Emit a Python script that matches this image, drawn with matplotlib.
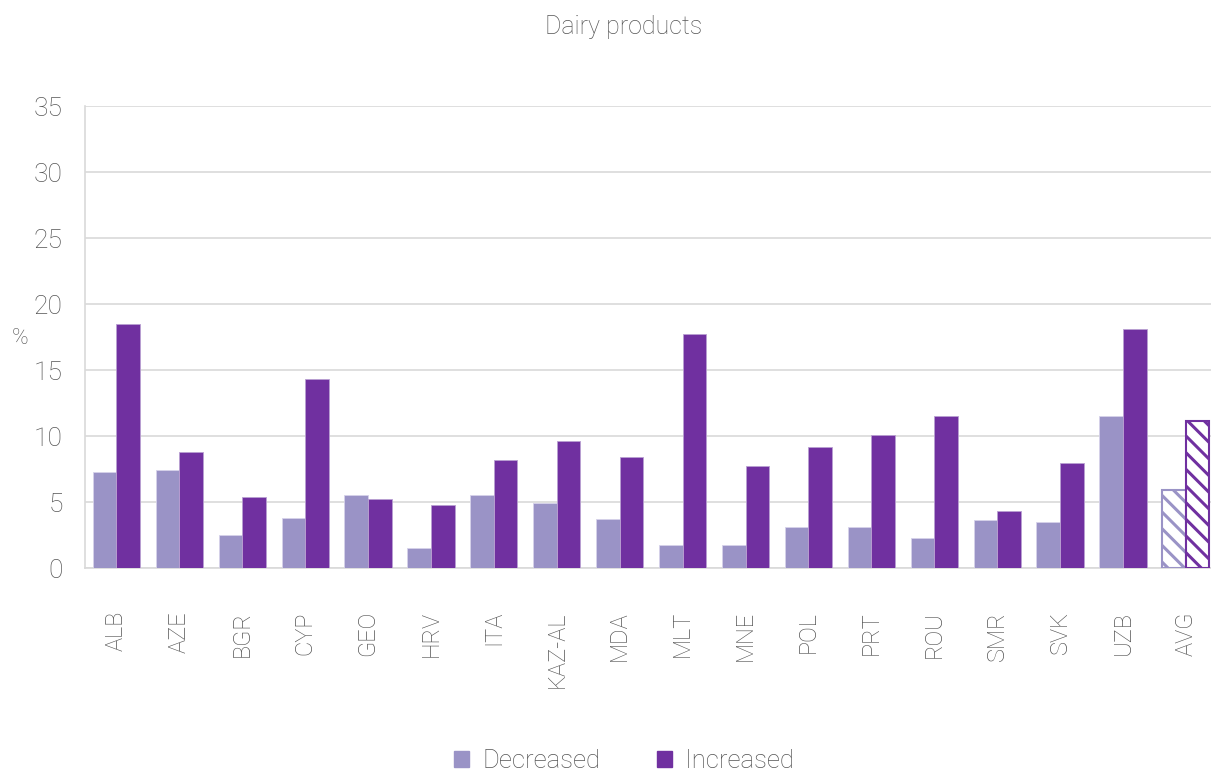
import matplotlib
matplotlib.use("Agg")

import matplotlib.pyplot as plt
import numpy as np

# ── data ────────────────────────────────────────────────────────────────────
countries = ["ALB", "AZE", "BGR", "CYP", "GEO", "HRV", "ITA", "KAZ-AL", "MDA",
             "MLT", "MNE", "POL", "PRT", "ROU", "SMR", "SVK", "UZB", "AVG"]
decreased = [7.3, 7.4, 2.5, 3.8, 5.5, 1.55, 5.5, 4.9, 3.75,
             1.75, 1.75, 3.1, 3.1, 2.3, 3.65, 3.45, 11.5, 5.9]
increased = [18.5, 8.8, 5.4, 14.3, 5.2, 4.75, 8.2, 9.6, 8.4,
             17.7, 7.7, 9.2, 10.1, 11.5, 4.35, 7.95, 18.1, 11.1]

# ── style ───────────────────────────────────────────────────────────────────
plt.rcParams.update({
    "font.family": ["Roboto", "DejaVu Sans"],
    "font.weight": "light",
    "hatch.linewidth": 2.2,
})
C_DEC = "#9a93c6"
C_INC = "#7030a0"
TXT = "#555555"
GRID = "#d9d9d9"

fig = plt.figure(figsize=(12.11, 7.73), dpi=100)
ax = fig.add_axes([85 / 1211, 205 / 773, 1 - 85 / 1211, 462 / 773])

x = np.arange(len(countries))
w = 0.375
n = len(countries) - 1  # last group is the average, drawn hatched

ax.bar(x[:n] - w / 2, decreased[:n], w, color=C_DEC, edgecolor="#d6d2ea",
       linewidth=0.6, label="Decreased", zorder=3)
ax.bar(x[:n] + w / 2, increased[:n], w, color=C_INC, edgecolor="#b9a0d2",
       linewidth=0.6, label="Increased", zorder=3)

ax.bar(x[n] - w / 2, decreased[n], w, color="white", edgecolor=C_DEC,
       hatch="\\\\", linewidth=1.5, zorder=3)
ax.bar(x[n] + w / 2, increased[n], w, color="white", edgecolor=C_INC,
       hatch="\\\\", linewidth=1.5, zorder=3)

ax.set_xlim(-0.5, 17.4)
ax.set_ylim(0, 35)
ax.set_yticks(np.arange(0, 36, 5))
ax.yaxis.grid(True, color=GRID, linewidth=1.2, zorder=0)
ax.set_axisbelow(True)

ax.set_xticks(x)
ax.set_xticklabels(countries, rotation=90, va="top", ha="center")
ax.tick_params(axis="x", length=0, pad=31, labelsize=17, labelcolor=TXT)
ax.tick_params(axis="y", length=0, pad=16, labelsize=19, labelcolor=TXT)

for side in ("top", "right"):
    ax.spines[side].set_visible(False)
ax.spines["left"].set_color(GRID)
ax.spines["bottom"].set_color(GRID)
ax.spines["left"].set_linewidth(1.2)
ax.spines["bottom"].set_linewidth(1.2)

fig.text(20 / 1211, 1 - 338 / 773, "%", fontsize=16, color=TXT,
         ha="center", va="center")
fig.text(624 / 1211, 1 - 27 / 773, "Dairy products", fontsize=18, color=TXT,
         ha="center", va="center")

handles = [plt.Rectangle((0, 0), 1, 1, color=C_DEC),
           plt.Rectangle((0, 0), 1, 1, color=C_INC)]
fig.legend(handles, ["Decreased", "Increased"], loc="center",
           bbox_to_anchor=(624 / 1211, 1 - 761 / 773), ncol=2, frameon=False,
           fontsize=18.5, labelcolor=TXT, handlelength=0.6, handleheight=0.6,
           columnspacing=2.2, handletextpad=0.5)

fig.savefig("out.png", dpi=100)
